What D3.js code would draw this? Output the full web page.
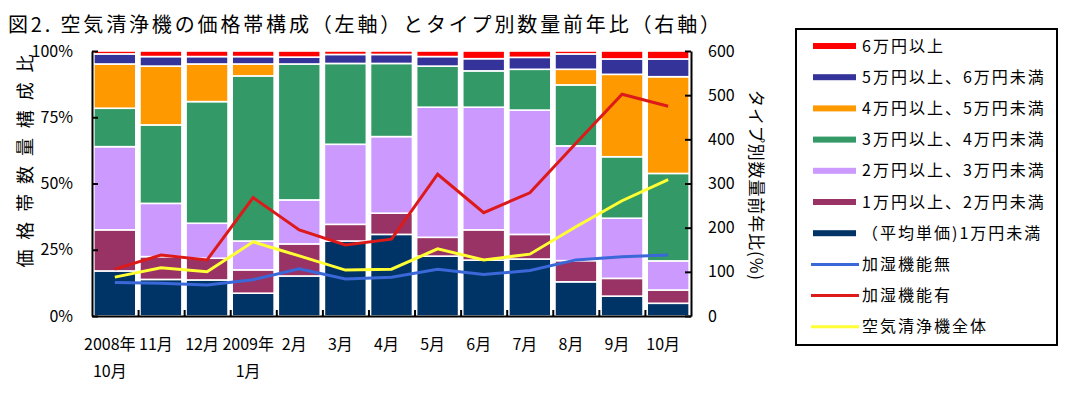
<!doctype html>
<html lang="ja">
  <head>
    <meta charset="utf-8">
    <title>空気清浄機</title>
    <script src="https://d3js.org/d3.v7.min.js"></script>
    <style>
      body { margin: 0; background: #fff; }
      text { font-family: "Noto Sans CJK JP", sans-serif; fill: #000; }
      .axis path, .axis line { stroke: #000; stroke-width: 2; }
    </style>
  </head>
  <body>
    <svg></svg>
    <script>
      // data
      var months = ["2008年|10月", "11月", "12月", "2009年|1月", "2月", "3月", "4月", "5月", "6月", "7月", "8月", "9月", "10月"];

      // price band shares (%), bottom to top
      var under1 = [17.0, 13.8, 13.6, 8.6, 15.1, 28.3, 30.8, 22.6, 21.1, 21.5, 12.9, 7.5, 4.8];
      var from1to2 = [15.5, 8.6, 8.2, 8.8, 12.1, 6.3, 8.0, 7.1, 11.4, 9.3, 8.0, 6.7, 5.0];
      var from2to3 = [31.4, 20.1, 13.2, 10.9, 16.6, 30.2, 28.9, 49.1, 46.3, 46.9, 43.3, 22.7, 11.0];
      var from3to4 = [14.5, 29.6, 45.9, 62.3, 51.3, 30.5, 27.6, 15.5, 13.7, 15.4, 23.0, 23.2, 33.0];
      var from4to5 = [16.7, 22.2, 14.2, 4.5, 0, 0, 0, 0, 0, 0, 5.9, 31.1, 36.5];
      var from5to6 = [3.8, 3.6, 2.8, 2.8, 2.6, 3.4, 3.4, 3.6, 4.6, 4.5, 5.8, 5.8, 6.7];
      var over6 = [1.1, 2.1, 2.1, 2.1, 2.3, 1.3, 1.3, 2.1, 2.9, 2.4, 1.1, 3.0, 3.0];

      // year-on-year volume (%), right axis
      var noHumid = [76, 74, 70, 82, 107, 84, 88, 106, 94, 103, 127, 134, 138];
      var withHumid = [106, 138, 127, 268, 195, 161, 174, 321, 234, 279, 391, 502, 475];
      var allCleaners = [88, 109, 100, 168, 136, 104, 106, 152, 127, 140, 202, 261, 309];

      var leftTicks = [0, 25, 50, 75, 100];
      var rightTicks = [0, 100, 200, 300, 400, 500, 600];

      var bands = [
        {name: "（平均単価)1万円未満", values: under1, color: "#003366"},
        {name: "1万円以上、2万円未満", values: from1to2, color: "#993366"},
        {name: "2万円以上、3万円未満", values: from2to3, color: "#cc99ff"},
        {name: "3万円以上、4万円未満", values: from3to4, color: "#339966"},
        {name: "4万円以上、5万円未満", values: from4to5, color: "#ff9900"},
        {name: "5万円以上、6万円未満", values: from5to6, color: "#333399"},
        {name: "6万円以上", values: over6, color: "#ff0000"}
      ];
      var lines = [
        {name: "加湿機能無", values: noHumid, color: "#3a68d8"},
        {name: "加湿機能有", values: withHumid, color: "#dd1a1a"},
        {name: "空気清浄機全体", values: allCleaners, color: "#ffff33"}
      ];

      var svg = d3.select("svg")
        .attr("width", 1069)
        .attr("height", 398);

      var plotLeft = 92, plotRight = 691, plotTop = 51, plotBottom = 316;

      var x = d3.scaleBand().domain(d3.range(months.length))
        .range([plotLeft, plotRight]).paddingInner(0.09).paddingOuter(0.04);
      var y = d3.scaleLinear().domain([0, 100]).range([plotBottom, plotTop]);
      var y2 = d3.scaleLinear().domain([0, 600]).range([plotBottom, plotTop]);

      var rows = months.map(function(m, i){
        var r = {i: i};
        bands.forEach(function(b, k){ r[k] = b.values[i]; });
        return r;
      });
      var stack = d3.stack().keys(d3.range(bands.length))(rows);

      // stacked bars
      svg.selectAll(".layer").data(stack).enter()
        .append("g")
        .attr("class", "layer")
        .attr("fill", function(d){ return bands[d.key].color })
        .selectAll("rect").data(function(d){ return d }).enter()
        .append("rect")
        .attr("x", function(d){ return x(d.data.i) })
        .attr("width", x.bandwidth())
        .attr("y", function(d){ return y(d[1]) })
        .attr("height", function(d){ return Math.max(0, y(d[0]) - y(d[1])) })
        .attr("stroke", "#fff")
        .attr("stroke-width", 1.6);

      // lines
      var line = d3.line()
        .x(function(d, i){ return x(i) + x.bandwidth() / 2 })
        .y(function(d){ return y2(d) });

      svg.selectAll(".series").data(lines).enter()
        .append("path")
        .attr("class", "series")
        .attr("fill", "none")
        .attr("stroke", function(d){ return d.color })
        .attr("stroke-width", 3)
        .attr("d", function(d){ return line(d.values) });

      // axes
      svg.append("g")
        .attr("class", "axis")
        .attr("transform", "translate(" + plotLeft + ",0)")
        .call(d3.axisLeft(y).tickValues(leftTicks).tickSizeInner(-6).tickSizeOuter(0)
          .tickPadding(19).tickFormat(function(d){ return d + "%" }))
        .selectAll("text").style("font-size", "16px");

      svg.append("g")
        .attr("class", "axis")
        .attr("transform", "translate(" + plotRight + ",0)")
        .call(d3.axisRight(y2).tickValues(rightTicks).tickSizeInner(-6).tickSizeOuter(0)
          .tickPadding(17))
        .selectAll("text").style("font-size", "16px");

      var xb = d3.scaleLinear().domain([0, months.length]).range([plotLeft, plotRight]);
      svg.append("g")
        .attr("class", "axis")
        .attr("transform", "translate(0," + plotBottom + ")")
        .call(d3.axisBottom(xb).tickValues(d3.range(1, months.length)).tickSizeInner(-6)
          .tickSizeOuter(0).tickFormat(""));

      // month labels
      var lab = svg.selectAll(".month").data(months).enter()
        .append("text")
        .attr("class", "month")
        .attr("text-anchor", "middle")
        .style("font-size", "16px")
        .attr("x", function(d, i){ return x(i) + x.bandwidth() / 2 - 5 });
      lab.selectAll("tspan").data(function(d){ return d.split("|") }).enter()
        .append("tspan")
        .attr("x", function(){ return this.parentNode.getAttribute("x") })
        .attr("y", function(d, j){ return 350 + j * 27 })
        .text(function(d){ return d });

      // titles
      svg.append("text")
        .attr("x", 8).attr("y", 32)
        .style("font-size", "20px")
        .attr("textLength", 712).attr("lengthAdjust", "spacing")
        .text("図2. 空気清浄機の価格帯構成（左軸）とタイプ別数量前年比（右軸）");

      svg.append("text")
        .attr("transform", "translate(32,161) rotate(-90)")
        .attr("text-anchor", "middle")
        .style("font-size", "18px")
        .attr("textLength", 213).attr("lengthAdjust", "spacing")
        .text("価格帯数量構成比");

      svg.append("text")
        .attr("transform", "translate(750,185) rotate(90)")
        .attr("text-anchor", "middle")
        .style("font-size", "17px")
        .attr("textLength", 190).attr("lengthAdjust", "spacing")
        .text("タイプ別数量前年比(%)");

      // legend
      var legend = svg.append("g");
      legend.append("rect")
        .attr("x", 796).attr("y", 29)
        .attr("width", 261).attr("height", 316)
        .attr("fill", "#fff").attr("stroke", "#000").attr("stroke-width", 2);

      var items = bands.slice().reverse().map(function(b){ return {name: b.name, color: b.color, bar: true} })
        .concat(lines.map(function(l){ return {name: l.name, color: l.color, bar: false} }));

      var item = legend.selectAll(".item").data(items).enter()
        .append("g")
        .attr("class", "item")
        .attr("transform", function(d, i){ return "translate(0," + (46 + i * 31.2) + ")" });

      item.filter(function(d){ return d.bar }).append("rect")
        .attr("x", 813).attr("y", -3).attr("width", 43).attr("height", 6)
        .attr("fill", function(d){ return d.color });
      item.filter(function(d){ return !d.bar }).append("line")
        .attr("x1", 811).attr("x2", 859)
        .attr("stroke", function(d){ return d.color }).attr("stroke-width", 3);
      item.append("text")
        .attr("x", 862).attr("dy", "0.35em")
        .style("font-size", "16px")
        .style("letter-spacing", "2px")
        .text(function(d){ return d.name });
    </script>
  </body>
</html>
